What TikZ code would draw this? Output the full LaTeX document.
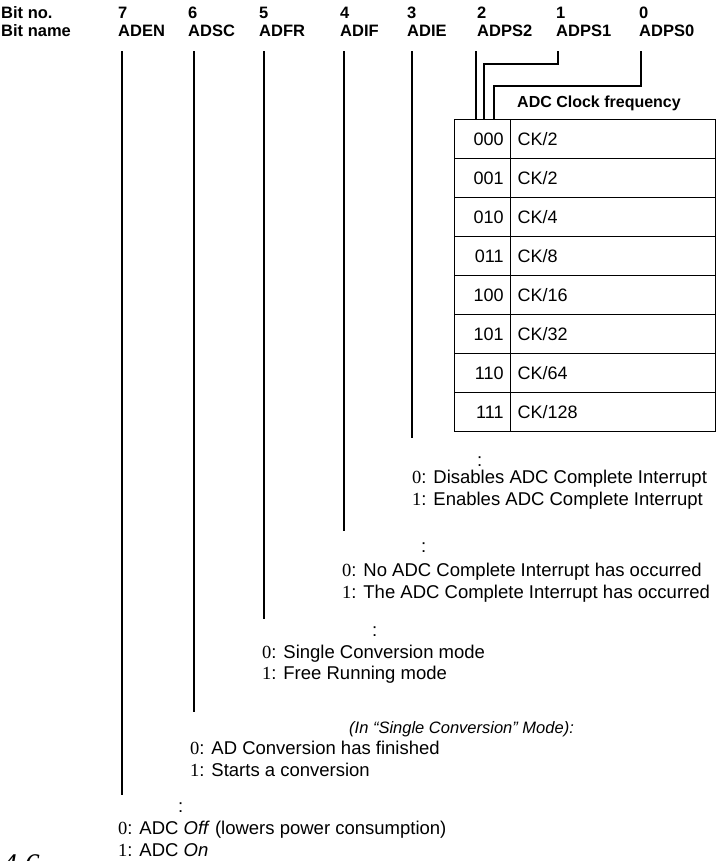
\documentclass[tikz,border=0pt]{standalone}
\usepackage{fontspec}
\setmainfont{Liberation Sans}
\newfontfamily\numfont{Liberation Serif}
\tikzset{
    bitlbl/.style={anchor=base west, inner sep=0pt, font=\fontsize{16.5}{18}\selectfont\bfseries},
    desc/.style={anchor=base west, inner sep=0pt, font=\fontsize{18.5}{21}\selectfont},
    bitline/.style={line width=1.3pt},
    cell/.style={draw, line width=1.2pt, minimum height=39pt, inner xsep=7pt, anchor=north west, font=\fontsize{18}{20}\selectfont}
}
\newcommand{\bitval}[1]{{\numfont #1}:}
\begin{document}
\begin{tikzpicture}[x=1pt, y=-1pt]
    \clip (0,0) rectangle (716,861);

    % header rows
    \node[bitlbl] (hno) at (1,19) {Bit no.};
    \node[bitlbl] (hname) at (1,37) {Bit name};
    \foreach \n/\nm/\x in {7/ADEN/118, 6/ADSC/188, 5/ADFR/259, 4/ADIF/340, 3/ADIE/407, 2/ADPS2/477, 1/ADPS1/556, 0/ADPS0/639} {
        \node[bitlbl] (no\n) at (\x,19) {\n};
        \node[bitlbl] (b\n) at (\x,37) {\nm};
    }

    % clock table
    \node[bitlbl, font=\fontsize{16}{18}\selectfont\bfseries] (thead) at (517,108) {ADC Clock frequency};
    \foreach \c/\v [count=\i from 0] in {000/2, 001/2, 010/4, 011/8, 100/16, 101/32, 110/64, 111/128} {
        \node[cell, minimum width=56pt, text width=42pt, align=right] (k\i) at (454,119+39*\i) {\c};
        \node[cell, minimum width=205pt, text width=191pt, align=left] (f\i) at (510,119+39*\i) {CK/\v};
    }

    % line ends
    \coordinate (e7) at (122,795);
    \coordinate (e6) at (194,712);
    \coordinate (e5) at (264,619);
    \coordinate (e4) at (344,531);
    \coordinate (e3) at (412,438);
    \coordinate (t2) at (476,119);
    \coordinate (j1) at (558,64);
    \coordinate (t1) at (484,119);
    \coordinate (j0) at (641,86);
    \coordinate (t0) at (494,119);

    \foreach \n in {7,6,5,4,3} {
        \draw[bitline] (e\n |- b\n.south) ++(0,14) -- (e\n);
    }
    \draw[bitline] (t2 |- b2.south) ++(0,14) -- (t2);
    \draw[bitline] (j1 |- b1.south) ++(0,14) -- (j1) -| (t1);
    \draw[bitline] (j0 |- b0.south) ++(0,14) -- (j0) -| (t0);

    % ADIE
    \node[desc] (c3) at (477,466) {:};
    \node[desc] (d3a) at (412,483) {\bitval{0} Disables ADC Complete Interrupt};
    \node[desc] (d3b) at (412,505) {\bitval{1} Enables ADC Complete Interrupt};

    % ADIF
    \node[desc] (c4) at (421,552) {:};
    \node[desc] (d4a) at (342,576) {\bitval{0} No ADC Complete Interrupt has occurred};
    \node[desc] (d4b) at (342,598) {\bitval{1} The ADC Complete Interrupt has occurred};

    % ADFR
    \node[desc] (c5) at (372,636) {:};
    \node[desc] (d5a) at (262,658) {\bitval{0} Single Conversion mode};
    \node[desc] (d5b) at (262,679) {\bitval{1} Free Running mode};

    % ADSC
    \node[desc, font=\fontsize{16.5}{20}\selectfont\itshape] (c6) at (349,733) {(In ``Single Conversion'' Mode):};
    \node[desc] (d6a) at (190,754) {\bitval{0} AD Conversion has finished};
    \node[desc] (d6b) at (190,776) {\bitval{1} Starts a conversion};

    % ADEN
    \node[desc] (c7) at (178,812) {:};
    \node[desc] (d7a) at (118,834) {\bitval{0} ADC \textit{Off} (lowers power consumption)};
    \node[desc] (d7b) at (118,856) {\bitval{1} ADC \textit{On}};

    \node[anchor=base west, inner sep=0pt, font=\fontsize{30}{36}\selectfont\numfont\itshape] (fig) at (2,874) {4.6};
\end{tikzpicture}
\end{document}
